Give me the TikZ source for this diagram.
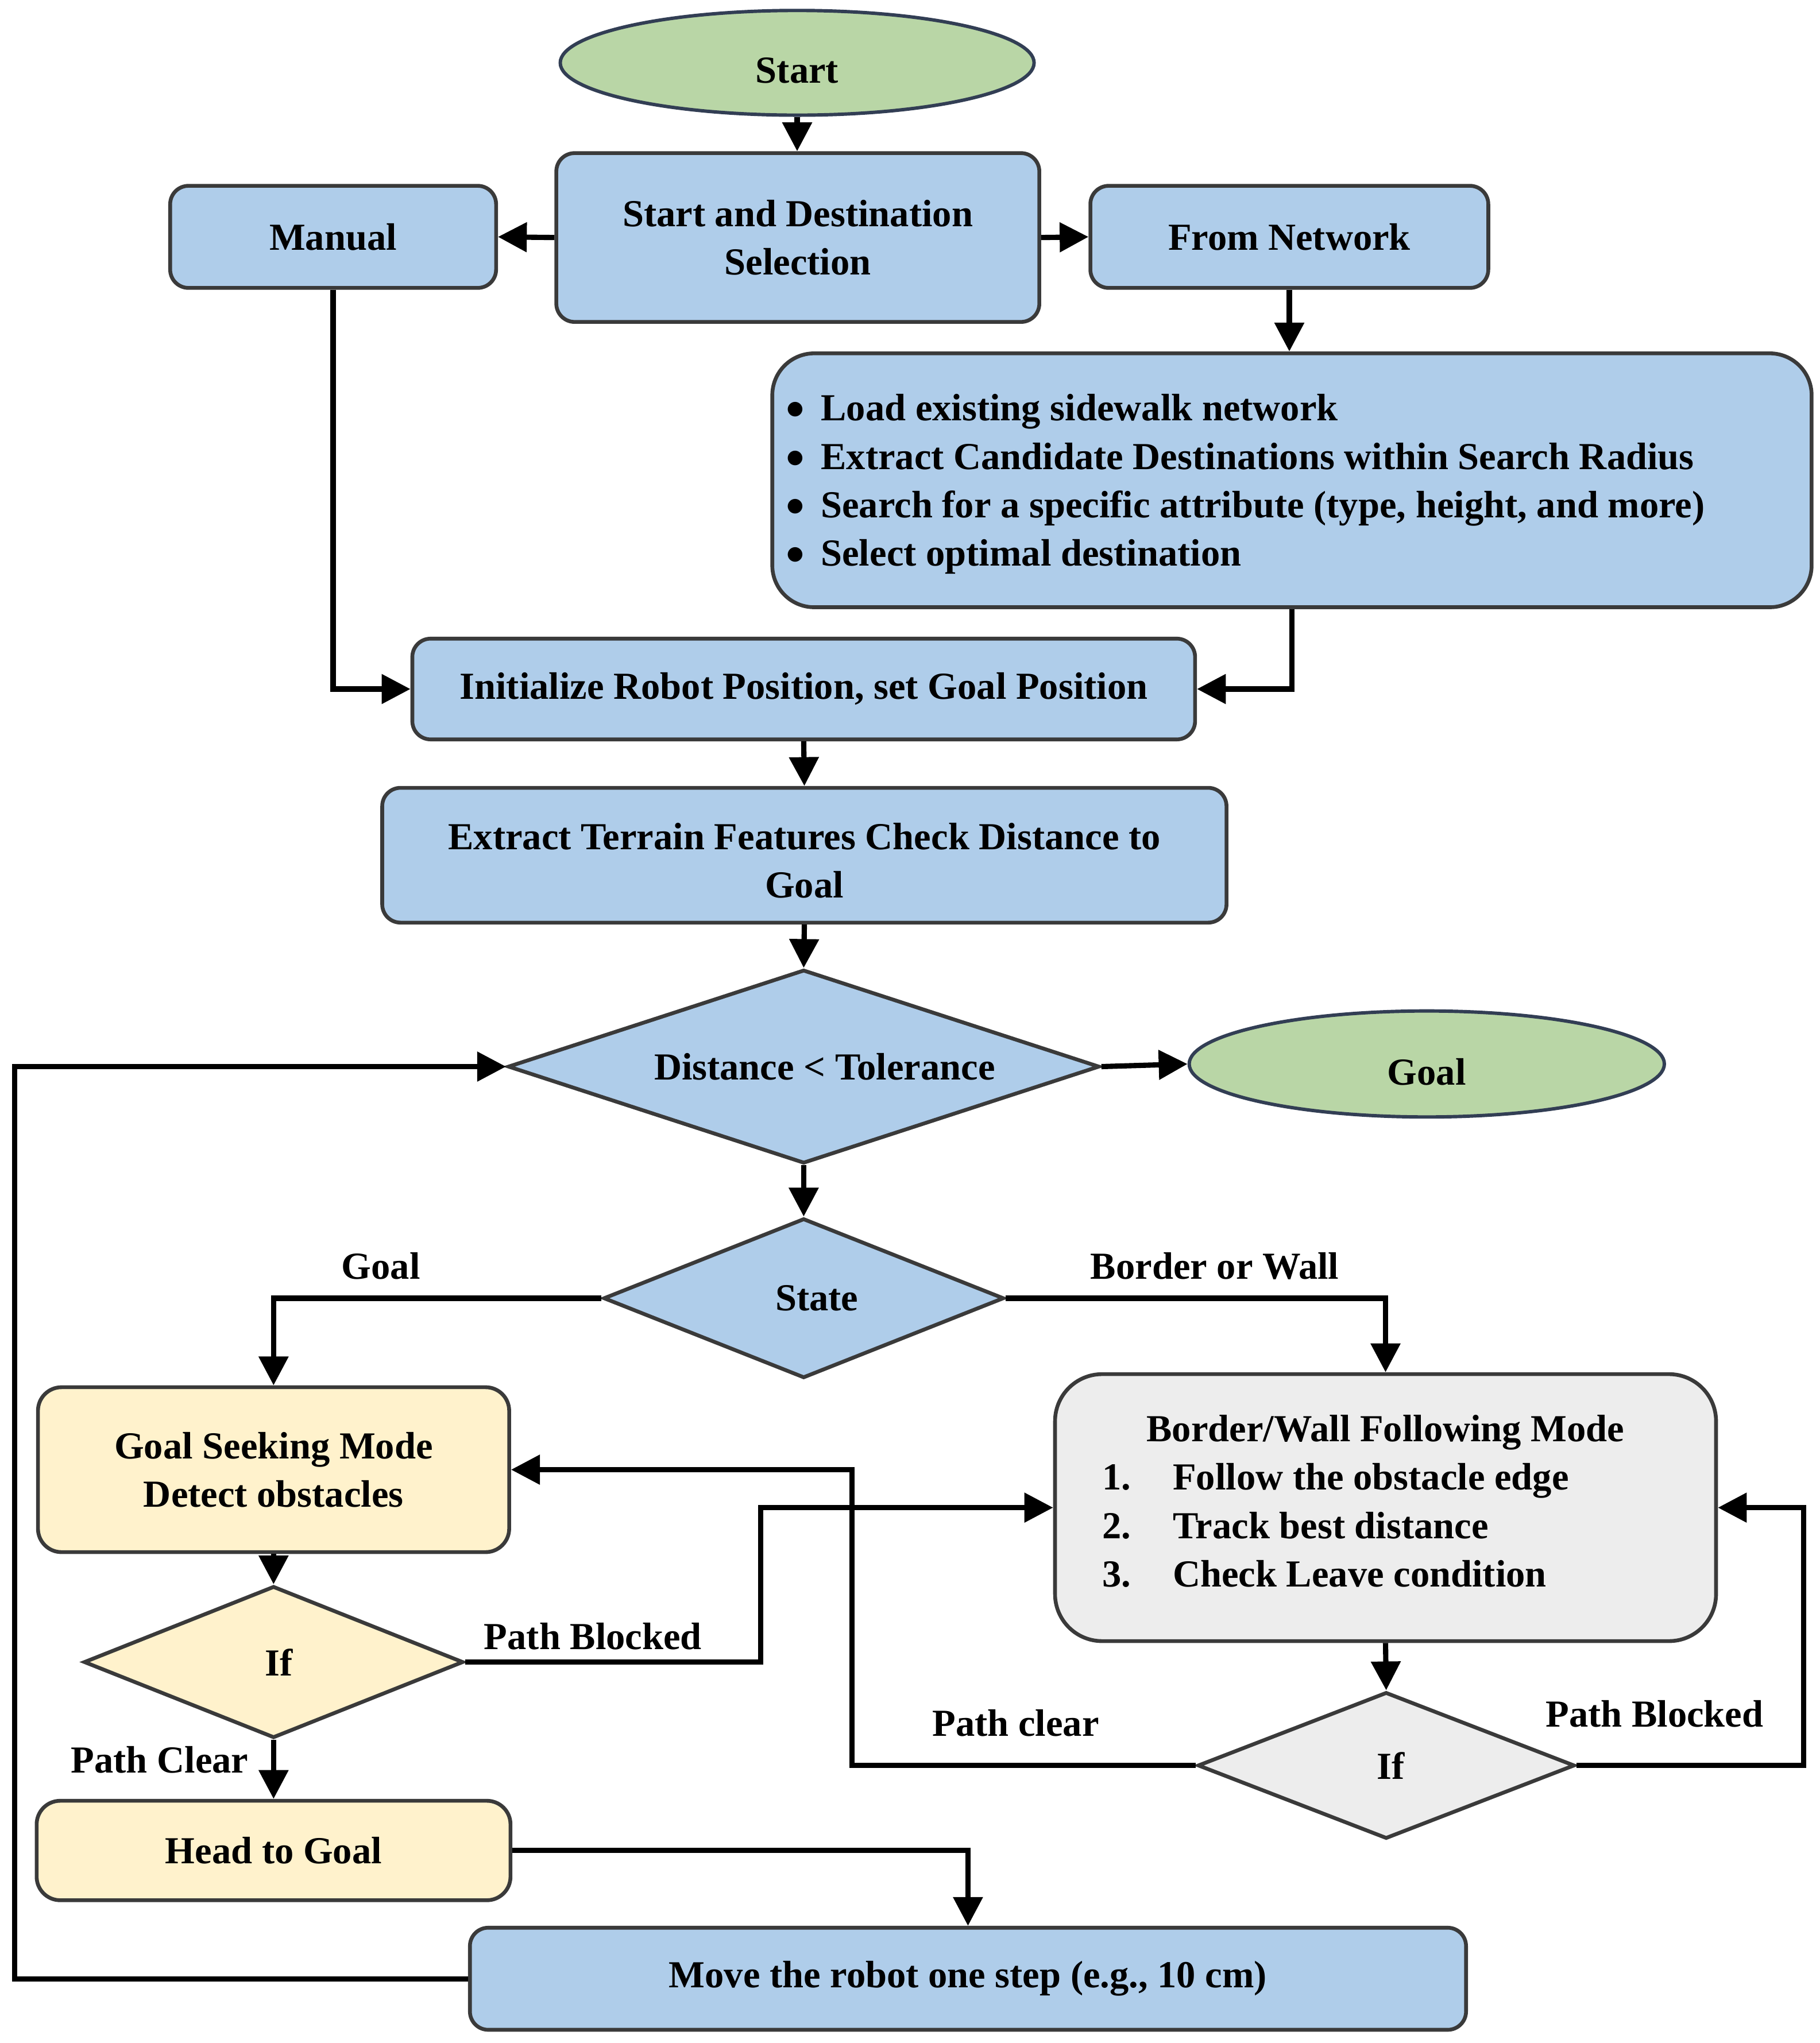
\documentclass[tikz,border=0pt]{standalone}
\usepackage{fontspec}
\setmainfont{Liberation Serif}
\usetikzlibrary{shapes.geometric,arrows.meta}
\definecolor{boxblue}{RGB}{175,205,234}
\definecolor{boxgreen}{RGB}{185,214,166}
\definecolor{ellline}{RGB}{50,62,84}
\definecolor{boxline}{RGB}{58,58,58}
\definecolor{boxyellow}{RGB}{255,242,204}
\definecolor{boxgray}{RGB}{237,237,237}
\newcommand\mybul{\raisebox{0.045em}{$\bullet$}\hspace{0.42em}}
\begin{document}
\begin{tikzpicture}[x=0.5pt,y=-0.5pt,
  every node/.style={font=\fontsize{14.6}{18.5}\selectfont\bfseries},
  bx/.style={draw=boxline, line width=1.45pt, rounded corners=7pt, fill=boxblue, align=center, inner sep=0pt},
  ell/.style={ellipse, draw=ellline, line width=1.3pt, fill=boxgreen, inner sep=0pt},
  dia/.style={diamond, draw=boxline, line width=1.45pt, fill=boxblue, inner sep=0pt},
  arr/.style={line width=2pt, -{Triangle[length=11pt,width=11pt]}}
]
\fill[white] (0,0) rectangle (1390,1561.1);
\useasboundingbox (0,0) rectangle (1390,1561.1);

% nodes
\node[ell, minimum width=181pt, minimum height=40pt, label={[yshift=-3pt]center:Start}] (start) at (609,48) {};
\node[bx, minimum width=184.5pt, minimum height=64.5pt] (sds) at (609.5,181.5) {Start and Destination\\Selection};
\node[bx, minimum width=124.5pt, minimum height=39pt] (manual) at (254.5,181) {Manual};
\node[bx, minimum width=152pt, minimum height=39pt] (net) at (985,181) {From Network};
\node[bx, rounded corners=16pt, minimum width=397pt, minimum height=97pt,
  label={[yshift=-1.5pt, xshift=1.75pt, text width=390pt, inner sep=0pt, align=flush left]center:
   \mybul Load existing sidewalk network\\
   \mybul Extract Candidate Destinations within Search Radius\\
   \mybul Search for a specific attribute (type, height, and more)\\
   \mybul Select optimal destination}] (bul) at (987,367) {};
\node[bx, minimum width=299pt, minimum height=38.5pt] (init) at (614,526.5) {Initialize Robot Position, set Goal Position};
\node[bx, minimum width=322.5pt, minimum height=51.5pt,
  label={[yshift=-2pt, align=center]center:Extract Terrain Features Check Distance to\\Goal}] (ext) at (614.5,653.5) {};
\node[dia, minimum width=226pt, minimum height=74pt, label={[xshift=8pt]center:Distance < Tolerance}] (d1) at (614,815) {};
\node[ell, minimum width=181.5pt, minimum height=40.5pt, label={[yshift=-3pt]center:Goal}] (goal) at (1090,813) {};
\node[dia, minimum width=153pt, minimum height=61pt, label={[xshift=5pt]center:State}] (state) at (614,992) {};
\node[bx, fill=boxyellow, rounded corners=9pt, minimum width=180pt, minimum height=63pt] (gs) at (209,1123) {Goal Seeking Mode\\Detect obstacles};
\node[bx, fill=boxgray, rounded corners=18pt, minimum width=252.5pt, minimum height=102pt,
  label={[yshift=2.5pt, text width=216.5pt, inner sep=0pt, align=flush left]center:
   \makebox[216.5pt][c]{Border/Wall Following Mode}\\
   \makebox[27pt][l]{1.}Follow the obstacle edge\\
   \makebox[27pt][l]{2.}Track best distance\\
   \makebox[27pt][l]{3.}Check Leave condition}] (bw) at (1058.5,1152) {};
\node[dia, fill=boxyellow, minimum width=145pt, minimum height=58pt, label={[xshift=2pt]center:If}] (if1) at (209,1270) {};
\node[dia, fill=boxgray, minimum width=144pt, minimum height=56pt, label={[xshift=1.75pt]center:If}] (if2) at (1059,1349) {};
\node[bx, fill=boxyellow, rounded corners=9pt, minimum width=181pt, minimum height=38pt] (htg) at (209,1414) {Head to Goal};
\node[bx, minimum width=380.5pt, minimum height=39pt] (move) at (739.5,1512) {Move the robot one step (e.g., 10 cm)};

% helper x positions for turning points
\coordinate (xpb) at (581,0);
\coordinate (xpc) at (651,0);
\coordinate (xpr) at (1378,0);
\coordinate (xl) at (11,0);

% connectors
\draw[arr] (start.south) -- (start.south |- sds.north);
\draw[arr] (sds.west) -- (manual.east);
\draw[arr] (sds.east) -- (net.west);
\draw[arr] (net.south) -- (net.south |- bul.north);
\draw[arr] (manual.south) |- (init.west);
\draw[arr] (bul.south) |- (init.east);
\draw[arr] (init.south) -- (ext.north);
\draw[arr] (ext.south) -- (d1.north);
\draw[arr] (d1.east) -- (goal.west);
\draw[arr] (d1.south) -- (state.north);
\draw[arr] (state.west) -| (gs.north);
\draw[arr] (state.east) -| (bw.north);
\draw[arr] (gs.south) -- (if1.north);
\draw[arr] (if1.east) -- (if1.east -| xpb) |- (bw.west);
\draw[arr] (bw.south) -- (if2.north);
\draw[arr] (if2.west) -- (if2.west -| xpc) |- (gs.east);
\draw[arr] (if2.east) -- (if2.east -| xpr) |- (bw.east);
\draw[arr] (if1.south) -- (htg.north);
\draw[arr] (htg.east) -| (move.north);
\draw[arr] (move.west) -- (move.west -| xl) |- (d1.west);

% connector labels
\node (lgoal) at (291,967.5) {Goal};
\node (lbw) at (928,967.5) {Border or Wall};
\node (lpb1) at (453,1250.5) {Path Blocked};
\node (lpc1) at (122,1344.5) {Path Clear};
\node (lpc2) at (776,1316.5) {Path clear};
\node (lpb2) at (1264,1309.5) {Path Blocked};
\end{tikzpicture}
\end{document}
